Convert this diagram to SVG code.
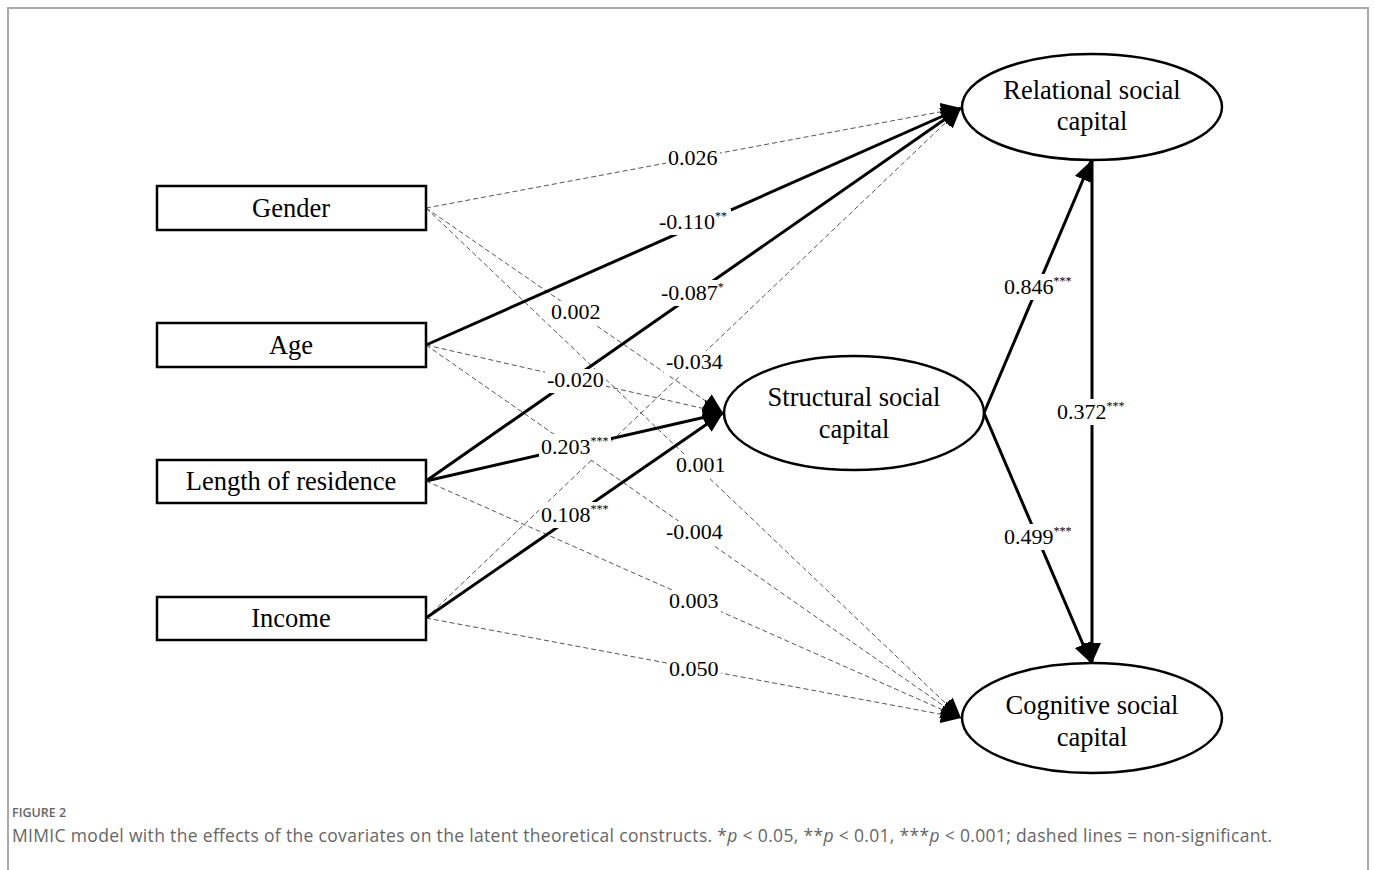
<svg xmlns="http://www.w3.org/2000/svg" width="1375" height="870" viewBox="0 0 1375 870">
<style>
.frame{fill:none;stroke:#aaa;stroke-width:2}
.box{fill:#fff;stroke:#000;stroke-width:2.5}
.ell{fill:#fff;stroke:#000;stroke-width:2.5}
.lbl{font-family:"Liberation Serif","Times New Roman",serif;font-size:26.5px;fill:#000;text-anchor:middle}
.coef{font-family:"Liberation Serif","Times New Roman",serif;font-size:22px;fill:#000}
.bg{fill:#fff;stroke:none}
.sup{font-size:12px}
.ns{fill:none;stroke:#555;stroke-width:1;stroke-dasharray:5 3;marker-end:url(#ah)}
.sig{fill:none;stroke:#000;stroke-width:3;marker-end:url(#ah)}
.fig{font-family:"Open Sans",sans-serif;font-size:12.5px;font-weight:600;fill:#666}
.cap{font-family:"Open Sans",sans-serif;font-size:17.5px;fill:#666}
</style>
<defs>
<marker id="ah" markerUnits="userSpaceOnUse" markerWidth="22" markerHeight="18" refX="20" refY="9" orient="auto">
<path d="M0,0 L20,9 L0,18 z" fill="#000"/>
</marker>
</defs>
<rect class="frame" x="8" y="8" width="1360" height="880"/>
<g id="connectors">
<line class="ns" x1="426" y1="208" x2="961" y2="108"/>
<line class="ns" x1="426" y1="208" x2="723" y2="413"/>
<line class="ns" x1="426" y1="208" x2="961" y2="718"/>
<line class="sig" x1="426" y1="345" x2="961" y2="108"/>
<line class="ns" x1="426" y1="345" x2="723" y2="413"/>
<line class="ns" x1="426" y1="345" x2="961" y2="718"/>
<line class="sig" x1="426" y1="481" x2="961" y2="108"/>
<line class="sig" x1="426" y1="481" x2="723" y2="413"/>
<line class="ns" x1="426" y1="481" x2="961" y2="718"/>
<line class="ns" x1="426" y1="618" x2="961" y2="108"/>
<line class="sig" x1="426" y1="618" x2="723" y2="413"/>
<line class="ns" x1="426" y1="618" x2="961" y2="718"/>
<line class="sig" x1="984" y1="413" x2="1091" y2="161"/>
<line class="sig" x1="984" y1="413" x2="1091" y2="663"/>
<line class="sig" x1="1092" y1="160" x2="1092" y2="663"/>
<g id="labels">
<rect class="bg" x="666" y="147" width="54" height="24"/>
<rect class="bg" x="657" y="209" width="74" height="26"/>
<rect class="bg" x="549" y="301" width="54" height="24"/>
<rect class="bg" x="659" y="280" width="68" height="26"/>
<rect class="bg" x="664" y="351" width="61" height="24"/>
<rect class="bg" x="545" y="369" width="61" height="24"/>
<rect class="bg" x="539" y="434" width="72" height="26"/>
<rect class="bg" x="674" y="454" width="54" height="24"/>
<rect class="bg" x="539" y="502" width="72" height="26"/>
<rect class="bg" x="664" y="521" width="61" height="24"/>
<rect class="bg" x="667" y="590" width="54" height="24"/>
<rect class="bg" x="667" y="658" width="54" height="24"/>
<rect class="bg" x="1002" y="274" width="72" height="26"/>
<rect class="bg" x="1055" y="399" width="72" height="26"/>
<rect class="bg" x="1002" y="524" width="72" height="26"/>
<text class="coef" x="668" y="165">0.026</text>
<text class="coef" x="659" y="229">-0.110<tspan class="sup" dy="-9">**</tspan></text>
<text class="coef" x="551" y="319">0.002</text>
<text class="coef" x="661" y="300">-0.087<tspan class="sup" dy="-9">*</tspan></text>
<text class="coef" x="666" y="369">-0.034</text>
<text class="coef" x="547" y="387">-0.020</text>
<text class="coef" x="541" y="454">0.203<tspan class="sup" dy="-9">***</tspan></text>
<text class="coef" x="676" y="472">0.001</text>
<text class="coef" x="541" y="522">0.108<tspan class="sup" dy="-9">***</tspan></text>
<text class="coef" x="666" y="539">-0.004</text>
<text class="coef" x="669" y="608">0.003</text>
<text class="coef" x="669" y="676">0.050</text>
<text class="coef" x="1004" y="294">0.846<tspan class="sup" dy="-9">***</tspan></text>
<text class="coef" x="1057" y="419">0.372<tspan class="sup" dy="-9">***</tspan></text>
<text class="coef" x="1004" y="544">0.499<tspan class="sup" dy="-9">***</tspan></text>
</g>
</g>
<g id="gender"><rect class="box" x="157" y="186" width="269" height="44"/><text class="lbl" x="291" y="217">Gender</text></g>
<g id="age"><rect class="box" x="157" y="323" width="269" height="44"/><text class="lbl" x="291" y="354">Age</text></g>
<g id="residence"><rect class="box" x="157" y="460" width="269" height="43"/><text class="lbl" x="291" y="490">Length of residence</text></g>
<g id="income"><rect class="box" x="157" y="597" width="269" height="43"/><text class="lbl" x="291" y="627">Income</text></g>
<g id="relational"><ellipse class="ell" cx="1092" cy="107" rx="130" ry="53"/><text class="lbl" x="1092" y="99">Relational social</text><text class="lbl" x="1092" y="130">capital</text></g>
<g id="structural"><ellipse class="ell" cx="854" cy="413" rx="130" ry="57"/><text class="lbl" x="854" y="406">Structural social</text><text class="lbl" x="854" y="438">capital</text></g>
<g id="cognitive"><ellipse class="ell" cx="1092" cy="718" rx="130" ry="55"/><text class="lbl" x="1092" y="714">Cognitive social</text><text class="lbl" x="1092" y="746">capital</text></g>
<text class="fig" x="12" y="817">FIGURE 2</text>
<text class="cap" x="12" y="842" textLength="1260" lengthAdjust="spacing">MIMIC model with the effects of the covariates on the latent theoretical constructs. *<tspan font-style="italic">p</tspan> &lt; 0.05, **<tspan font-style="italic">p</tspan> &lt; 0.01, ***<tspan font-style="italic">p</tspan> &lt; 0.001; dashed lines = non-significant.</text>
</svg>
